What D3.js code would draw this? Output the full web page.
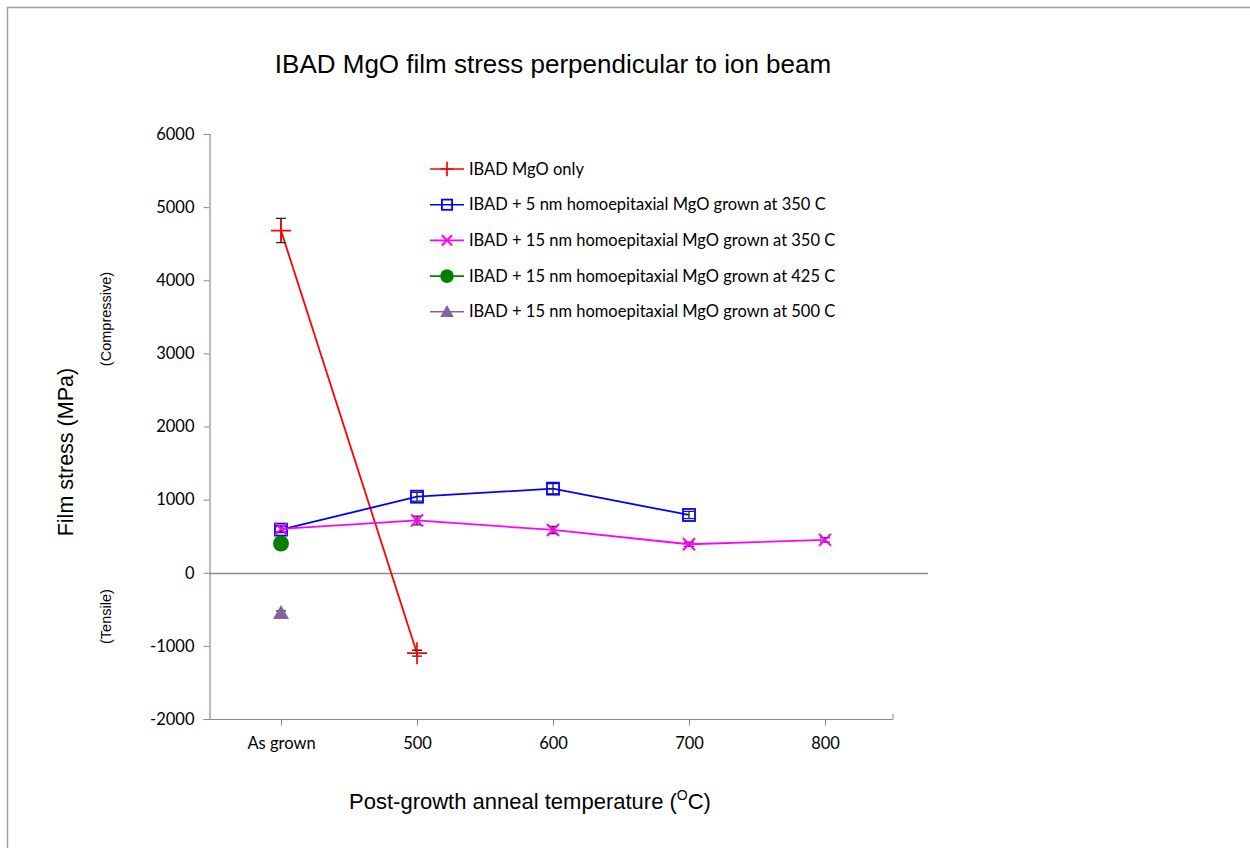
<!DOCTYPE html>
<html><head><meta charset="utf-8">
<script src="https://cdn.jsdelivr.net/npm/d3@7"></script>
<style>body{margin:0;background:#fff}svg{display:block}</style>
</head><body>
<script>
const categories = ["As grown","500","600","700","800"];
const yTicks = [-2000,-1000,0,1000,2000,3000,4000,5000,6000];
const seriesNames = [
  "IBAD MgO only",
  "IBAD + 5 nm homoepitaxial MgO grown at 350 C",
  "IBAD + 15 nm homoepitaxial MgO grown at 350 C",
  "IBAD + 15 nm homoepitaxial MgO grown at 425 C",
  "IBAD + 15 nm homoepitaxial MgO grown at 500 C"
];
const seriesColors = ["#ff0000","#0000ff","#ff00ff","#008000","#8064a2"];
const seriesMarkers = ["plus","square","cross","circle","triangle"];
// values (null = no measurement)
const ibadOnly   = [4680, -1100, null, null, null];
const ibadOnlyErr= [165, 40, null, null, null];
const h5at350    = [590, 1040, 1150, 790, null];
const h5at350Err = [40, 60, 70, 50, null];
const h15at350   = [600, 715, 585, 390, 450];
const h15at350Err= [40, 60, 50, 30, 30];
const h15at425   = [400, null, null, null, null];
const h15at425Err= [null, null, null, null, null];
const h15at500   = [-550, null, null, null, null];
const h15at500Err= [30, null, null, null, null];
const allValues = [ibadOnly,h5at350,h15at350,h15at425,h15at500];
const allErrs = [ibadOnlyErr,h5at350Err,h15at350Err,h15at425Err,h15at500Err];

const W=1250,H=848;
const svg=d3.select("body").append("svg").attr("width",W).attr("height",H);
svg.append("rect").attr("x",7.5).attr("y",7.5).attr("width",W+10).attr("height",H+10)
  .attr("fill","none").attr("stroke","#a0a0a0").attr("stroke-width",1.5);

const x=d3.scalePoint().domain(categories).range([281,825]);
const y=d3.scaleLinear().domain([-2000,6000]).range([719,134]);
const axisColor="#8c8c8c";
const tickFont="Lato, 'Open Sans', sans-serif";
const tickSize=16.5;

// y axis
const yAx=svg.append("g").attr("transform","translate(209.5,0)")
  .call(d3.axisLeft(y).tickValues(yTicks).tickSize(6).tickPadding(9).tickFormat(d=>String(d)));
yAx.select(".domain").attr("stroke",axisColor).attr("stroke-width",1.2);
yAx.selectAll(".tick line").attr("stroke",axisColor);
yAx.selectAll(".tick text").attr("font-family",tickFont).attr("font-size",tickSize).attr("fill","#000");

// bottom category axis
const xAx=svg.append("g").attr("transform","translate(0,"+(y(-2000)+0.5)+")")
  .call(d3.axisBottom(x).tickSize(6).tickPadding(12));
xAx.select(".domain").attr("d","M209,0H893").attr("stroke",axisColor).attr("stroke-width",1.2);
xAx.selectAll(".tick line").attr("stroke",axisColor);
xAx.selectAll(".tick text").attr("font-family",tickFont).attr("font-size",tickSize).attr("fill","#000");
xAx.append("line").attr("x1",893).attr("x2",893).attr("y1",-6).attr("y2",0).attr("stroke",axisColor);

// zero line
svg.append("line").attr("x1",209).attr("x2",928).attr("y1",Math.round(y(0))+0.5).attr("y2",Math.round(y(0))+0.5)
  .attr("stroke",axisColor).attr("stroke-width",1.5);

function drawMarker(g,type,cx,cy,color,scale){
  const s=scale||1;
  if(type==="plus"){
    g.append("path").attr("d",`M${cx-10*s},${cy}H${cx+10*s}M${cx},${cy-11*s}V${cy+11*s}`)
      .attr("stroke",color).attr("stroke-width",1.7).attr("fill","none");
  } else if(type==="square"){
    g.append("rect").attr("x",cx-6*s).attr("y",cy-6*s).attr("width",12*s).attr("height",12*s)
      .attr("fill","none").attr("stroke",color).attr("stroke-width",1.8);
  } else if(type==="cross"){
    g.append("path").attr("d",`M${cx-6*s},${cy-6*s}L${cx+6*s},${cy+6*s}M${cx-6*s},${cy+6*s}L${cx+6*s},${cy-6*s}`)
      .attr("stroke",color).attr("stroke-width",2).attr("fill","none");
  } else if(type==="circle"){
    g.append("circle").attr("cx",cx).attr("cy",cy).attr("r",8*s).attr("fill",color);
  } else if(type==="triangle"){
    g.append("path").attr("d",`M${cx},${cy-8*s}L${cx+8*s},${cy+6*s}L${cx-8*s},${cy+6*s}Z`).attr("fill",color);
  }
}

allValues.forEach((vals,i)=>{
  const color=seriesColors[i];
  const pts=categories.map((c,j)=>({c,v:vals[j],e:allErrs[i][j]})).filter(d=>d.v!==null);
  const g=svg.append("g");
  const line=d3.line().x(d=>x(d.c)).y(d=>y(d.v));
  if(pts.length>1) g.append("path").datum(pts).attr("d",line).attr("fill","none").attr("stroke",color).attr("stroke-width",1.8);
  pts.forEach(d=>{
    if(d.e){
      const cx=x(d.c);
      g.append("path").attr("d",`M${cx},${y(d.v+d.e)}V${y(d.v-d.e)}M${cx-5},${y(d.v+d.e)}H${cx+5}M${cx-5},${y(d.v-d.e)}H${cx+5}`)
        .attr("stroke","#222").attr("stroke-width",1.3).attr("fill","none");
    }
    drawMarker(g,seriesMarkers[i],x(d.c),y(d.v),color,1);
  });
});

// legend
const leg=svg.append("g");
seriesNames.forEach((n,i)=>{
  const ly=169+i*35.7;
  leg.append("line").attr("x1",430).attr("x2",464).attr("y1",ly).attr("y2",ly).attr("stroke",seriesColors[i]).attr("stroke-width",1.6);
  drawMarker(leg,seriesMarkers[i],447,ly,seriesColors[i],i===0?0.65:0.85);
  leg.append("text").attr("x",469).attr("y",ly+5.5).text(n).attr("font-family",tickFont).attr("font-size",tickSize).attr("fill","#000");
});

// titles
const titleFont="'Liberation Sans', Arial, sans-serif";
svg.append("text").attr("x",553).attr("y",73).attr("text-anchor","middle").attr("font-family",titleFont)
  .attr("font-size",26).text("IBAD MgO film stress perpendicular to ion beam");
svg.append("text").attr("transform","translate(73,"+y(1650)+") rotate(-90)").attr("text-anchor","middle")
  .attr("font-family",titleFont).attr("font-size",21.5).text("Film stress (MPa)");
svg.append("text").attr("transform","translate(111,"+y(3470)+") rotate(-90)").attr("text-anchor","middle")
  .attr("font-family",titleFont).attr("font-size",14.5).text("(Compressive)");
svg.append("text").attr("transform","translate(111,"+y(-600)+") rotate(-90)").attr("text-anchor","middle")
  .attr("font-family",titleFont).attr("font-size",14.5).text("(Tensile)");
const xt=svg.append("text").attr("x",530).attr("y",809).attr("text-anchor","middle").attr("font-family",titleFont).attr("font-size",22);
xt.append("tspan").text("Post-growth anneal temperature (");
xt.append("tspan").attr("font-size",14).attr("dy",-9).text("O");
xt.append("tspan").attr("dy",9).text("C)");
</script>
</body></html>
